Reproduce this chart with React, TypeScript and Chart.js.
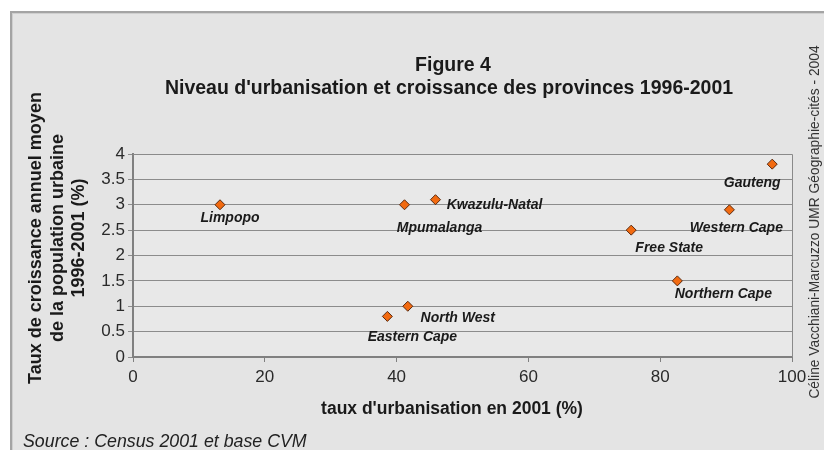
import React, { useEffect, useRef } from "react";
import { Chart, registerables } from "chart.js";

Chart.register(...registerables);

const provinces = [
  "Limpopo",
  "Mpumalanga",
  "Kwazulu-Natal",
  "North West",
  "Eastern Cape",
  "Gauteng",
  "Western Cape",
  "Free State",
  "Northern Cape",
];
const urbanisation = [13.2, 41.2, 45.9, 41.7, 38.6, 97.0, 90.5, 75.6, 82.6];
const croissance = [3.0, 3.0, 3.1, 1.0, 0.8, 3.8, 2.9, 2.5, 1.5];
const xTicks = [0, 20, 40, 60, 80, 100];
const yTicks = [0, 0.5, 1, 1.5, 2, 2.5, 3, 3.5, 4];

// label placement relative to each point (pixels)
const labelOffsets: [number, number][] = [
  [10, 13],
  [35, 23],
  [59, 5],
  [50, 12],
  [25, 21],
  [-20, 19],
  [7, 18],
  [38, 18],
  [46, 13],
];

const titleLines = ["Figure 4", "Niveau d'urbanisation et croissance des provinces 1996-2001"];
const yTitleLines = ["Taux de croissance annuel moyen", "de la population urbaine", "1996-2001 (%)"];
const xTitle = "taux d'urbanisation en 2001 (%)";
const sourceText = "Source : Census 2001 et base CVM";
const creditText = "Céline Vacchiani-Marcuzzo UMR Géographie-cités - 2004";

const FONT = "'Liberation Sans', Arial, Helvetica, sans-serif";

const decorPlugin = {
  id: "decor",
  beforeDraw(chart: any) {
    const { ctx, width, height, chartArea } = chart;
    ctx.save();
    ctx.fillStyle = "#ffffff";
    ctx.fillRect(0, 0, width, height);
    ctx.fillStyle = "#e4e4e4";
    ctx.fillRect(10, 11, width - 10, height - 11);
    ctx.fillStyle = "#a4a4a4";
    ctx.fillRect(10, 11, width - 10, 2);
    ctx.fillRect(10, 11, 2, height - 11);
    ctx.fillStyle = "#cfcfcf";
    ctx.fillRect(12, 13, width - 12, 1);
    ctx.fillRect(12, 13, 1, height - 13);
    // plot area
    ctx.fillStyle = "#e8e8e8";
    ctx.fillRect(chartArea.left, chartArea.top, chartArea.right - chartArea.left, chartArea.bottom - chartArea.top);
    ctx.restore();
  },
  afterDraw(chart: any) {
    const { ctx, chartArea } = chart;
    const xs = chart.scales.x;
    const ys = chart.scales.y;
    ctx.save();
    // plot border top/right
    ctx.strokeStyle = "#8a8a8a";
    ctx.lineWidth = 1;
    ctx.beginPath();
    ctx.moveTo(chartArea.left, chartArea.top + 0.5);
    ctx.lineTo(chartArea.right + 0.5, chartArea.top + 0.5);
    ctx.lineTo(chartArea.right + 0.5, chartArea.bottom);
    ctx.stroke();

    ctx.fillStyle = "#1a1a1a";
    ctx.textAlign = "center";
    ctx.textBaseline = "middle";
    ctx.font = `bold 19.5px ${FONT}`;
    ctx.fillText(titleLines[0], 453, 66);
    ctx.fillText(titleLines[1], 449, 89);

    ctx.font = `bold 17.5px ${FONT}`;
    ctx.fillText(xTitle, 452, 409);

    ctx.save();
    ctx.translate(0, 238);
    ctx.rotate(-Math.PI / 2);
    ctx.font = `bold 18px ${FONT}`;
    ctx.fillText(yTitleLines[0], 0, 36);
    ctx.fillText(yTitleLines[1], 0, 58);
    ctx.fillText(yTitleLines[2], 0, 79);
    ctx.restore();

    ctx.save();
    ctx.translate(815, 222);
    ctx.rotate(-Math.PI / 2);
    ctx.font = `13.8px ${FONT}`;
    ctx.fillStyle = "#333333";
    ctx.fillText(creditText, 0, 0);
    ctx.restore();

    ctx.textAlign = "left";
    ctx.font = `italic 17.8px ${FONT}`;
    ctx.fillStyle = "#222222";
    ctx.fillText(sourceText, 23, 442);

    // point labels
    ctx.textAlign = "center";
    ctx.font = `italic bold 14px ${FONT}`;
    ctx.fillStyle = "#1a1a1a";
    provinces.forEach((name, i) => {
      const px = xs.getPixelForValue(urbanisation[i]);
      const py = ys.getPixelForValue(croissance[i]);
      const [dx, dy] = labelOffsets[i];
      ctx.fillText(name, px + dx, py + dy);
    });
    ctx.restore();
  },
};

export default function App() {
  const ref = useRef<HTMLCanvasElement | null>(null);
  useEffect(() => {
    if (!ref.current) return;
    const chart = new Chart(ref.current, {
      type: "scatter",
      data: {
        datasets: [
          {
            label: "Provinces",
            data: urbanisation.map((x, i) => ({ x, y: croissance[i] })),
            pointStyle: "rectRot",
            pointRadius: 5,
            pointBackgroundColor: "#f26a10",
            pointBorderColor: "#5a2a10",
            pointBorderWidth: 1,
          },
        ],
      },
      plugins: [decorPlugin],
      options: {
        responsive: false,
        animation: false,
        events: [],
        layout: { padding: { left: 93, right: 32, top: 154, bottom: 53 } },
        plugins: {
          legend: { display: false },
          tooltip: { enabled: false },
          title: { display: false },
        },
        scales: {
          x: {
            type: "linear",
            min: 0,
            max: 100,
            afterFit(scale: any) {
              scale.height = 40;
            },
            afterBuildTicks(scale: any) {
              scale.ticks = xTicks.map((v) => ({ value: v }));
            },
            border: { display: true, color: "#808080", width: 2 },
            grid: {
              display: true,
              drawOnChartArea: false,
              drawTicks: true,
              tickLength: 5,
              color: "#808080",
            },
            ticks: {
              color: "#2a2a2a",
              font: { family: FONT, size: 17 },
              padding: 5,
            },
          },
          y: {
            type: "linear",
            min: 0,
            max: 4,
            afterFit(scale: any) {
              scale.width = 40;
            },
            afterBuildTicks(scale: any) {
              scale.ticks = yTicks.map((v) => ({ value: v }));
            },
            border: { display: true, color: "#808080", width: 2 },
            grid: {
              display: true,
              drawTicks: true,
              tickLength: 5,
              color: "#8c8c8c",
              lineWidth: 1,
            },
            ticks: {
              color: "#2a2a2a",
              font: { family: FONT, size: 17 },
              padding: 3,
              callback: (v: any) => String(v),
            },
          },
        },
      },
    });
    return () => chart.destroy();
  }, []);
  return (
    <div style={{ position: "fixed", left: 0, top: 0, width: 824, height: 450 }}>
      <canvas ref={ref} width={824} height={450} style={{ display: "block", width: 824, height: 450 }} />
    </div>
  );
}
